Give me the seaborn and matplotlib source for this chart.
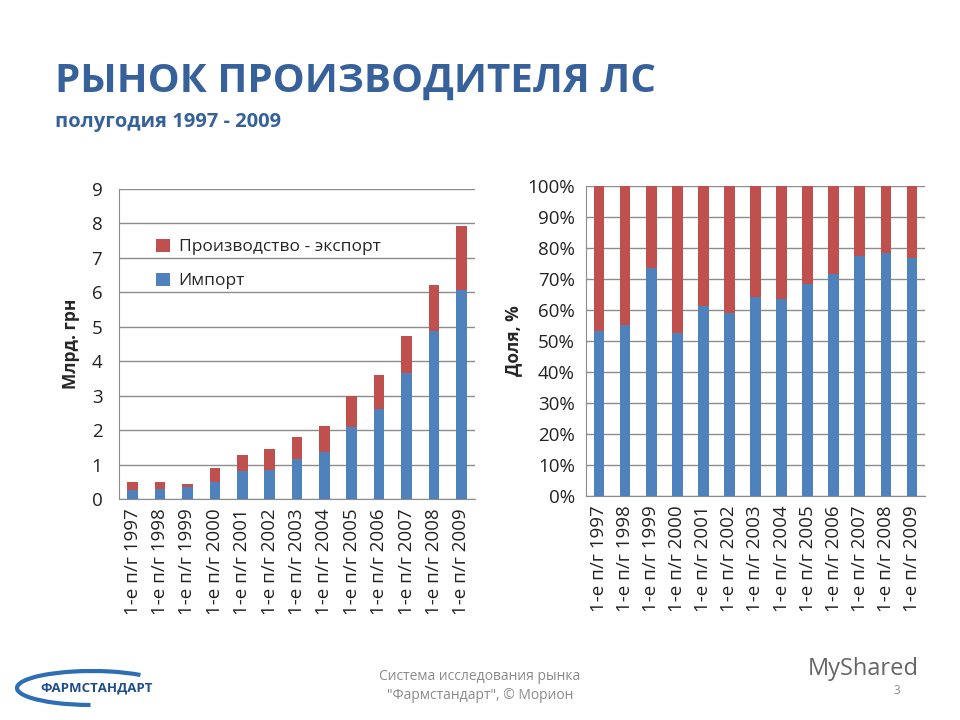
import matplotlib
matplotlib.use("Agg")
import matplotlib.pyplot as plt
import matplotlib.ticker as mticker
from matplotlib.patches import Arc
import seaborn as sns
import pandas as pd
import numpy as np

# ---- data ----
years = ["1997", "1998", "1999", "2000", "2001", "2002", "2003",
         "2004", "2005", "2006", "2007", "2008", "2009"]
labels = ["1-е п/г " + y for y in years]
import_vals = [0.25, 0.29, 0.35, 0.48, 0.80, 0.85, 1.16, 1.36, 2.08, 2.61, 3.66, 4.88, 6.08]
prod_export_vals = [0.23, 0.21, 0.10, 0.43, 0.49, 0.61, 0.63, 0.77, 0.92, 1.00, 1.06, 1.34, 1.86]
import_share = [53.1, 55.1, 73.6, 52.6, 61.3, 59.1, 64.2, 63.4, 68.3, 71.5, 77.4, 78.4, 76.7]

series_names = ["Производство - экспорт", "Импорт"]
BLUE = "#4F81BD"
RED = "#C0504D"
TITLE_COLOR = "#37619A"
GRID = "#8C8C8C"

sns.set_style("white")
plt.rcParams['font.family'] = ['Open Sans', 'DejaVu Sans']

df = pd.DataFrame({
    "label": labels,
    "imp": import_vals,
    "other": prod_export_vals,
    "share": import_share,
})
df["total"] = df["imp"] + df["other"]
df["full"] = 100.0

fig = plt.figure(figsize=(9.6, 7.2), dpi=100)

def style_axis(ax, ymax, step):
    ax.set_ylim(0, ymax)
    ax.set_xlim(-0.5, len(labels) - 0.5)
    ax.yaxis.set_major_locator(mticker.MultipleLocator(step))
    ax.grid(axis="y", color=GRID, linewidth=1)
    ax.grid(axis="x", visible=False)
    ax.set_axisbelow(True)
    for s in ["top", "right"]:
        ax.spines[s].set_visible(False)
    ax.spines["left"].set_color(GRID)
    ax.spines["bottom"].set_color(GRID)
    ax.tick_params(axis="y", length=0, labelsize=13.5, pad=12, colors="#222222")
    ax.tick_params(axis="x", which="major", length=0, labelsize=13.5, rotation=90, pad=7,
                   colors="#222222")
    ax.xaxis.set_minor_locator(mticker.FixedLocator(np.arange(-0.5, len(labels), 1.0)))
    ax.tick_params(axis="x", which="minor", length=6, color=GRID, direction="out")

bar_kw = dict(saturation=1, linewidth=0)

# ---- left chart ----
ax1 = fig.add_axes([119 / 960, 1 - 499 / 720, 356 / 960, 310 / 720])
sns.barplot(data=df, x="label", y="total", color=RED, width=0.39, ax=ax1,
            label=series_names[0], **bar_kw)
sns.barplot(data=df, x="label", y="imp", color=BLUE, width=0.39, ax=ax1,
            label=series_names[1], **bar_kw)
style_axis(ax1, 9, 1)
ax1.set_xlabel("")
ax1.set_ylabel("Млрд. грн", fontsize=12.5, fontweight="bold", labelpad=8)
ax1.legend(loc="upper left", bbox_to_anchor=(0.06, 0.89), frameon=False, fontsize=12.5,
           handlelength=0.8, handleheight=0.8, labelspacing=1.0, handletextpad=0.5)

# ---- right chart ----
ax2 = fig.add_axes([586 / 960, 1 - 496 / 720, 339 / 960, 310 / 720])
sns.barplot(data=df, x="label", y="full", color=RED, width=0.41, ax=ax2, **bar_kw)
sns.barplot(data=df, x="label", y="share", color=BLUE, width=0.41, ax=ax2, **bar_kw)
style_axis(ax2, 100, 10)
ax2.yaxis.set_major_formatter(mticker.FuncFormatter(lambda v, p: f"{v:.0f}%"))
ax2.tick_params(axis="y", pad=8)
ax2.set_xlabel("")
ax2.set_ylabel("Доля, %", fontsize=12.5, fontweight="bold", labelpad=4)

# ---- titles ----
fig.text(55 / 960, 1 - 92 / 720, "РЫНОК ПРОИЗВОДИТЕЛЯ ЛС", fontsize=29, fontweight="bold",
         color=TITLE_COLOR, ha="left", va="baseline")
fig.text(55 / 960, 1 - 127 / 720, "полугодия 1997 - 2009", fontsize=14.5, fontweight="bold",
         color=TITLE_COLOR, ha="left", va="baseline")

# ---- footer ----
fig.text(480 / 960, 1 - 686 / 720, "Система исследования рынка\n\"Фармстандарт\", © Морион",
         fontsize=10, color="#8a8a8a", ha="center", va="center", linespacing=1.3)
fig.text(897 / 960, 1 - 691 / 720, "3", fontsize=8.5, color="#8a8a8a", ha="center", va="center")

# logo (approximation)
over = fig.add_axes([0, 0, 1, 1], zorder=-1)
over.set_xlim(0, 960)
over.set_ylim(720, 0)
over.axis("off")
over.add_patch(Arc((92, 688), 150, 34, theta1=95, theta2=345, color="#2F6DB5", linewidth=3))
fig.text(97 / 960, 1 - 688 / 720, "ФАРМСТАНДАРТ", fontsize=9.5, fontweight="bold",
         color="#1F4E8C", ha="center", va="center")
fig.text(808 / 960, 1 - 669 / 720, "MyShared", fontsize=17, color="#666666",
         ha="left", va="center")

fig.savefig("out.png", dpi=100)
